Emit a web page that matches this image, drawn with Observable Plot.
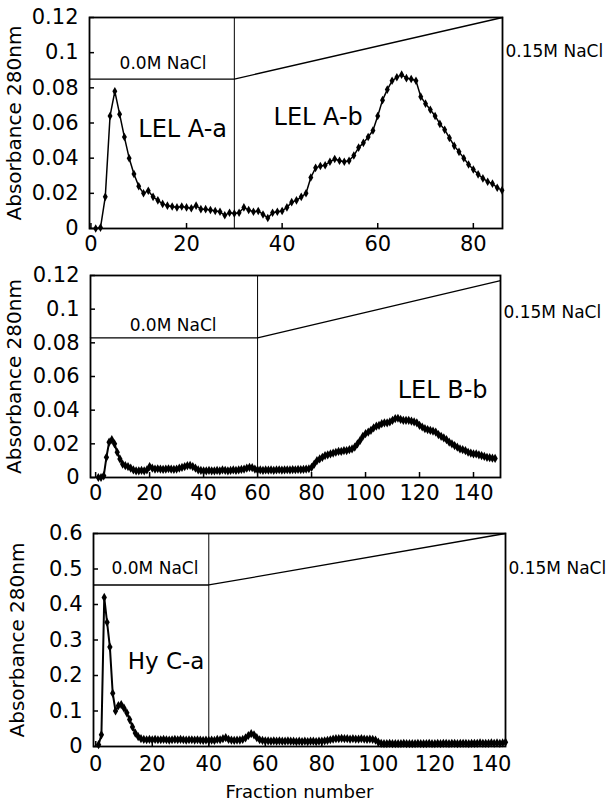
<!DOCTYPE html>
<html><head><meta charset="utf-8">
<script src="https://cdn.jsdelivr.net/npm/d3@7"></script>
<script src="https://cdn.jsdelivr.net/npm/@observablehq/plot@0.6"></script>
<style>
html,body{margin:0;padding:0;background:#fff;}
#wrap{position:relative;width:611px;height:806px;overflow:hidden;background:#fff;}
#wrap svg{position:absolute;left:0;}
</style></head><body><div id="wrap"></div>
<script>
// ---- Panel A (LEL A), fractions 1..86 ----
const valuesA = [
  0, 0.0005, 0.018, 0.064, 0.078, 0.065, 0.052, 0.040, 0.031, 0.024,
  0.020, 0.0215, 0.018, 0.016, 0.014, 0.013, 0.0125, 0.012, 0.0125, 0.012,
  0.0115, 0.013, 0.011, 0.011, 0.0105, 0.010, 0.0095, 0.0075, 0.009, 0.0085,
  0.009, 0.012, 0.0105, 0.0095, 0.010, 0.008, 0.006, 0.009, 0.0095, 0.010,
  0.012, 0.015, 0.016, 0.018, 0.020, 0.029, 0.0345, 0.0355, 0.036, 0.038,
  0.0395, 0.0385, 0.038, 0.0385, 0.0415, 0.046, 0.0487, 0.052, 0.0557, 0.064,
  0.073, 0.079, 0.084, 0.086, 0.0875, 0.0855, 0.085, 0.084, 0.075, 0.071,
  0.0675, 0.064, 0.0595, 0.0562, 0.0515, 0.047, 0.0436, 0.040, 0.0364, 0.0336,
  0.0308, 0.0285, 0.0266, 0.0255, 0.0232, 0.0217
];
const gradFracA = [-0.3, 30, 86.1];
const gradValA = [0.085, 0.085, 0.12];
const switchA = 30;
const xTicksA = [0, 20, 40, 60, 80];
const yTicksA = [0, 0.02, 0.04, 0.06, 0.08, 0.1, 0.12];

// ---- Panel B (LEL B), fractions 1..148 ----
const valuesB = [
  0, 0, 0.001, 0.012, 0.021, 0.0225, 0.020, 0.015, 0.011, 0.008,
  0.007, 0.0065, 0.0055, 0.0045, 0.004, 0.004, 0.0042, 0.004, 0.0045, 0.0065,
  0.0055, 0.005, 0.0052, 0.005, 0.0048, 0.005, 0.0052, 0.005, 0.0048, 0.005,
  0.0055, 0.006, 0.0065, 0.007, 0.0072, 0.0065, 0.0055, 0.0045, 0.0042, 0.004,
  0.004, 0.0042, 0.004, 0.004, 0.0042, 0.004, 0.0045, 0.0043, 0.004, 0.0042,
  0.0045, 0.0042, 0.0045, 0.0048, 0.005, 0.0055, 0.006, 0.0058, 0.005, 0.0045,
  0.0045, 0.0042, 0.0045, 0.0044, 0.0045, 0.0043, 0.0045, 0.0046, 0.0044, 0.0045,
  0.0046, 0.0045, 0.0047, 0.0046, 0.0048, 0.0047, 0.0048, 0.005, 0.0052, 0.006,
  0.008, 0.010, 0.011, 0.012, 0.013, 0.0135, 0.014, 0.0145, 0.015, 0.0155,
  0.0155, 0.016, 0.016, 0.0165, 0.017, 0.018, 0.020, 0.022, 0.0245, 0.026,
  0.027, 0.028, 0.0295, 0.0305, 0.031, 0.032, 0.0325, 0.0325, 0.033, 0.034,
  0.035, 0.0352, 0.0345, 0.034, 0.034, 0.034, 0.0335, 0.033, 0.0325, 0.031,
  0.030, 0.029, 0.0285, 0.028, 0.0275, 0.027, 0.0255, 0.0245, 0.0235, 0.0225,
  0.021, 0.020, 0.019, 0.018, 0.017, 0.0165, 0.016, 0.015, 0.0145, 0.014,
  0.014, 0.0135, 0.013, 0.0125, 0.012, 0.0118, 0.0115, 0.0113
];
const gradFracB = [-1.9, 60, 150];
const gradValB = [0.083, 0.083, 0.117];
const switchB = 60;
const xTicksB = [0, 20, 40, 60, 80, 100, 120, 140];
const yTicksB = [0, 0.02, 0.04, 0.06, 0.08, 0.1, 0.12];

// ---- Panel C (Hy C), fractions 1..145 ----
const valuesC = [
  0.005, 0.033, 0.42, 0.35, 0.28, 0.15, 0.10, 0.115, 0.118, 0.108,
  0.095, 0.076, 0.055, 0.038, 0.028, 0.022, 0.02, 0.019, 0.02, 0.019,
  0.02, 0.019, 0.019, 0.02, 0.019, 0.018, 0.019, 0.02, 0.019, 0.02,
  0.019, 0.018, 0.019, 0.019, 0.018, 0.019, 0.018, 0.017, 0.018, 0.017,
  0.018, 0.017, 0.02, 0.019, 0.022, 0.025, 0.02, 0.018, 0.017, 0.018,
  0.018, 0.02, 0.024, 0.031, 0.036, 0.033, 0.025, 0.019, 0.017, 0.016,
  0.016, 0.015, 0.016, 0.015, 0.016, 0.015, 0.015, 0.016, 0.015, 0.015,
  0.014, 0.015, 0.014, 0.015, 0.014, 0.015, 0.015, 0.014, 0.015, 0.015,
  0.016, 0.017, 0.019, 0.021, 0.022, 0.022, 0.023, 0.022, 0.022, 0.021,
  0.022, 0.021, 0.021, 0.022, 0.021, 0.02, 0.021, 0.02, 0.018, 0.012,
  0.009, 0.008, 0.008, 0.009, 0.008, 0.008, 0.008, 0.008, 0.009, 0.008,
  0.008, 0.008, 0.008, 0.009, 0.008, 0.008, 0.008, 0.009, 0.008, 0.008,
  0.009, 0.008, 0.009, 0.009, 0.008, 0.009, 0.009, 0.008, 0.009, 0.009,
  0.009, 0.008, 0.009, 0.009, 0.009, 0.01, 0.009, 0.009, 0.009, 0.01,
  0.009, 0.01, 0.009, 0.01, 0.012
];
const gradFracC = [-0.8, 40, 145];
const gradValC = [0.455, 0.455, 0.6];
const switchC = 40;
const xTicksC = [0, 20, 40, 60, 80, 100, 120, 140];
const yTicksC = [0, 0.1, 0.2, 0.3, 0.4, 0.5, 0.6];

const yTitle = "Absorbance 280nm";
const xTitle = "Fraction number";
const saltLow = "0.0M NaCl";
const saltHigh = "0.15M NaCl";

const FONT = "'DejaVu Sans', 'Liberation Sans', sans-serif";

function panel(cfg) {
  const data = cfg.values.map((v, i) => ({fraction: i + 1, absorbance: v}));
  const grad = cfg.gradFrac.map((f, i) => ({fraction: f, absorbance: cfg.gradVal[i]}));
  const marks = [
    Plot.ruleX([cfg.switchAt], {stroke: "black", strokeWidth: 1}),
    Plot.line(grad, {x: "fraction", y: "absorbance", stroke: "black", strokeWidth: 1.3}),
    Plot.line(data, {x: "fraction", y: "absorbance", stroke: "black", strokeWidth: cfg.lw}),
    Plot.dot(data, {x: "fraction", y: "absorbance", symbol: "diamond", r: cfg.r, fill: "black", stroke: "none"}),
    Plot.frame({stroke: "black", strokeWidth: 1.8}),
    Plot.axisX(cfg.xTicks, {tickSize: -5, tickFormat: () => "", strokeWidth: 1.5}),
    Plot.axisX(cfg.xTicks, {tickSize: 0, tickPadding: cfg.xPad, tickFormat: d => String(d), fontSize: 21}),
    Plot.axisY(cfg.yTicks, {tickSize: -5, tickFormat: () => "", strokeWidth: 1.5}),
    Plot.axisY(cfg.yTicks, {tickSize: 0, tickPadding: 11, tickFormat: d => String(d), fontSize: 21}),
    Plot.text([yTitle], {frameAnchor: "left", dx: cfg.titleDx, rotate: -90, textAnchor: "middle", lineAnchor: "middle", fontSize: 20}),
    Plot.text([saltLow], {x: cfg.lowAt[0], y: cfg.lowAt[1], textAnchor: "start", lineAnchor: "bottom", fontSize: 17}),
    Plot.text([saltHigh], {x: cfg.highAt[0], y: cfg.highAt[1], dx: 3, textAnchor: "start", lineAnchor: "bottom", fontSize: 17}),
    ...cfg.peaks.map(p => Plot.text([p[0]], {x: p[1], y: p[2], textAnchor: "start", lineAnchor: "bottom", fontSize: p[3]}))
  ];
  if (cfg.xLabel) marks.push(Plot.text([cfg.xLabel], {frameAnchor: "bottom", dy: 51, textAnchor: "middle", fontSize: 18}));
  const svg = Plot.plot({
    width: 611, height: cfg.height,
    marginTop: cfg.mt, marginBottom: cfg.mb, marginLeft: cfg.ml, marginRight: cfg.mr,
    x: {domain: cfg.domX, label: null},
    y: {domain: cfg.domY, label: null},
    style: {fontFamily: FONT, fontSize: "20px", color: "black", background: "transparent"},
    marks
  });
  svg.style.top = cfg.top + "px";
  document.getElementById("wrap").appendChild(svg);
}

panel({
  values: valuesA, gradFrac: gradFracA, gradVal: gradValA, switchAt: switchA,
  xTicks: xTicksA, yTicks: yTicksA, domX: [-0.3, 86.1], domY: [0, 0.12],
  top: 0, height: 262, mt: 17, mb: 34, ml: 89, mr: 109, titleDx: -75, xPad: 8, lw: 1.5, r: 2.6,
  lowAt: [6, 0.0905], highAt: [86.1, 0.0973],
  peaks: [["LEL A-a", 9.9, 0.0518, 24], ["LEL A-b", 38.2, 0.0586, 24]]
});
panel({
  values: valuesB, gradFrac: gradFracB, gradVal: gradValB, switchAt: switchB,
  xTicks: xTicksB, yTicks: yTicksB, domX: [-1.9, 150], domY: [0, 0.12],
  top: 262, height: 250, mt: 13, mb: 35, ml: 90, mr: 111, titleDx: -76, xPad: 8, lw: 2, r: 2.8,
  lowAt: [12.6, 0.0873], highAt: [150, 0.095],
  peaks: [["LEL B-b", 111.9, 0.0475, 24]]
});
panel({
  values: valuesC, gradFrac: gradFracC, gradVal: gradValC, switchAt: switchC,
  xTicks: xTicksC, yTicks: yTicksC, domX: [-0.8, 145], domY: [0, 0.6],
  top: 512, height: 294, mt: 21, mb: 60, ml: 93, mr: 106, titleDx: -76, xPad: 10, lw: 2, r: 2.8,
  lowAt: [5.6, 0.487], highAt: [145, 0.487],
  peaks: [["Hy C-a", 11.3, 0.217, 23]],
  xLabel: xTitle
});
</script></body></html>
